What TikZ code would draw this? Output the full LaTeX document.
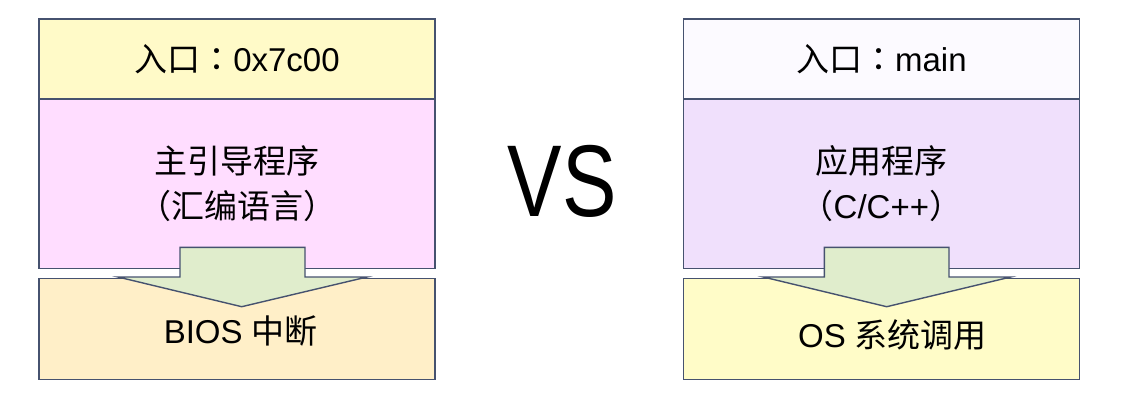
\documentclass[tikz,border=0pt]{standalone}
\usepackage{fontspec}
\setmainfont{Liberation Sans}
\newfontfamily\cjk{Noto Sans CJK SC}
\newfontfamily\cjkp{Noto Sans CJK TC}
\definecolor{lineC}{HTML}{46526F}
\definecolor{ltop}{HTML}{FFFAC8}
\definecolor{lmid}{HTML}{FFDDFF}
\definecolor{lbot}{HTML}{FFEFC8}
\definecolor{rtop}{HTML}{FCFAFF}
\definecolor{rmid}{HTML}{F0E0FC}
\definecolor{rbot}{HTML}{FFFCC8}
\definecolor{arrC}{HTML}{E0EDCC}
\tikzset{
  box/.style={draw=lineC, line width=1.4pt, minimum width=396pt, inner sep=0pt,
    align=center, font={\fontsize{33}{45}\selectfont}, text=black},
  lbl/.style={font={\fontsize{33}{45}\selectfont}, text=black},
  blockarrow/.style={draw=lineC, line width=1.4pt, fill=arrC, line join=miter}
}
\begin{document}
\begin{tikzpicture}[x=1pt,y=-1pt]
\useasboundingbox (0,0) rectangle (1147,405);
% left column
\node[box, fill=ltop, minimum height=80pt, anchor=north west] (ltopbox) at (38.3,18.3) {{\cjk 入口}{\cjkp ：}0x7c00};
\node[box, fill=lmid, minimum height=169.4pt, anchor=north west] (lmidbox) at (38.3,98.3) {{\cjk 主引导程序}\\{\cjkp （}{\cjk 汇编语言}{\cjkp ）}};
\node[box, fill=lbot, minimum height=101.3pt, anchor=north west] (lbotbox) at (38.3,277.7) {};
\draw[blockarrow] (180,277) -- (180,247.3) -- (305,247.3) -- (305,277) -- (367,277) -- (241.7,306.7) -- (118,277) -- cycle;
\node[lbl] (lbottext) at (240.8,331) {BIOS {\cjk 中断}};
% VS
\node[font={\fontsize{102}{102}\selectfont}, inner sep=0pt] (vs) at (562,181.5) {\scalebox{0.8}[1]{VS}};
% right column
\node[box, fill=rtop, minimum height=80pt, anchor=north west] (rtopbox) at (682.7,18.3) {{\cjk 入口}{\cjkp ：}main};
\node[box, fill=rmid, minimum height=169.4pt, anchor=north west] (rmidbox) at (682.7,98.3) {{\cjk 应用程序}\\{\cjkp （}C/C++{\cjkp ）}};
\node[box, fill=rbot, minimum height=101.3pt, anchor=north west] (rbotbox) at (682.7,277.7) {};
\draw[blockarrow] (824.3,277) -- (824.3,247.3) -- (949,247.3) -- (949,277) -- (1010.7,277) -- (886.7,306.7) -- (763.3,277) -- cycle;
\node[lbl] (rbottext) at (892.5,335) {OS {\cjk 系统调用}};
\end{tikzpicture}
\end{document}
